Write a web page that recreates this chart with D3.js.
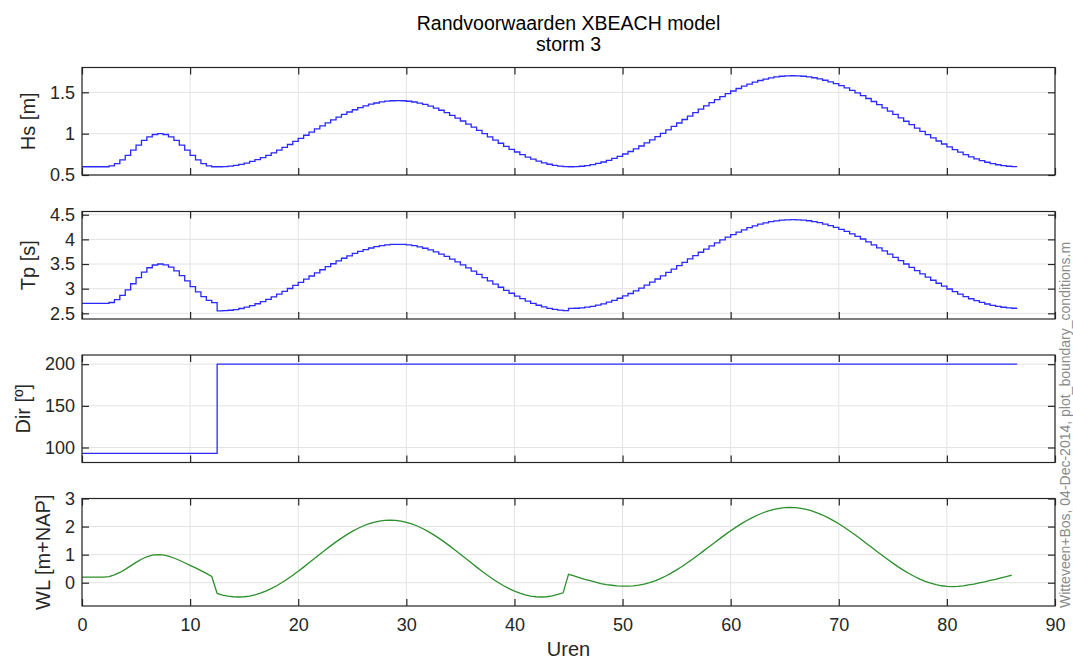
<!DOCTYPE html>
<html><head><meta charset="utf-8">
<script src="https://cdn.jsdelivr.net/npm/d3@7"></script>
<style>
body{margin:0;background:#fff}
svg text{font-family:"Liberation Sans",Arial,Helvetica,sans-serif}
</style>
</head><body>
<svg id="c" width="1073" height="660"></svg>
<script>
// ---------- data ----------
const titleLines = ["Randvoorwaarden XBEACH model", "storm 3"];
const xLabel = "Uren";
const watermark = "Witteveen+Bos, 04-Dec-2014, plot_boundary_conditions.m";
const xDomain = [0, 90];
const xTicks = [0, 10, 20, 30, 40, 50, 60, 70, 80, 90];
const tStart = 0, tStep = 0.5, tEnd = 86.5;   // hours of the samples

const hs = [
0.6,0.6,0.6,0.6,0.6,
0.610,0.638,0.682,0.738,0.8,0.862,0.918,0.962,0.990,1.0,
0.990,0.962,0.918,0.862,0.8,0.738,0.682,0.638,0.610,0.6,
0.6,0.602,0.607,0.616,0.629,0.644,0.664,0.686,0.711,0.738,0.768,0.8,0.834,0.869,0.906,0.943,0.981,1.019,1.057,1.094,1.131,1.166,1.2,1.232,1.262,1.289,1.314,1.336,1.356,1.371,1.384,1.393,1.398,1.4,
1.398,1.392,1.383,1.370,1.353,1.333,1.309,1.283,1.254,1.222,1.189,1.153,1.116,1.078,1.039,1.0,0.961,0.922,0.884,0.847,0.811,0.778,0.746,0.717,0.691,0.667,0.647,0.630,0.617,0.608,0.602,0.6,
0.602,0.606,0.614,0.626,0.640,0.657,0.677,0.700,0.726,0.754,0.784,0.817,0.851,0.888,0.925,0.964,1.004,1.045,1.087,1.129,1.171,1.213,1.255,1.296,1.336,1.375,1.412,1.449,1.483,1.516,1.546,1.574,1.600,1.623,1.643,1.660,1.674,1.686,1.694,1.698,1.700,
1.698,1.694,1.686,1.676,1.662,1.646,1.626,1.604,1.580,1.553,1.524,1.493,1.460,1.425,1.389,1.351,1.312,1.272,1.232,1.191,1.150,1.109,1.068,1.028,0.988,0.949,0.911,0.875,0.840,0.807,0.776,0.747,0.720,0.696,0.674,0.654,0.638,0.624,0.614,0.606,0.602
];
const tp = [
2.7,2.7,2.7,2.7,2.7,
2.720,2.776,2.865,2.976,3.1,3.224,3.335,3.424,3.480,3.5,
3.484,3.437,3.362,3.266,3.157,3.043,2.934,2.838,2.763,2.716,
2.550,2.553,2.562,2.577,2.598,2.625,2.657,2.694,2.736,2.783,2.833,2.888,2.945,3.004,3.066,3.129,3.193,3.257,3.321,3.384,3.446,3.505,3.562,3.617,3.667,3.714,3.756,3.793,3.825,3.852,3.873,3.888,3.897,3.900,
3.897,3.887,3.871,3.849,3.820,3.786,3.747,3.702,3.653,3.600,3.543,3.483,3.421,3.357,3.291,3.225,3.159,3.093,3.029,2.967,2.907,2.850,2.797,2.748,2.703,2.664,2.630,2.601,2.579,2.563,2.553,
2.6,
2.603,2.611,2.624,2.642,2.665,2.693,2.726,2.764,2.806,2.852,2.902,2.955,3.011,3.070,3.132,3.196,3.261,3.329,3.397,3.466,3.534,3.603,3.671,3.739,3.804,3.868,3.930,3.989,4.045,4.098,4.148,4.194,4.236,4.274,4.307,4.335,4.358,4.376,4.389,4.397,4.400,
4.397,4.390,4.377,4.360,4.338,4.311,4.279,4.244,4.204,4.160,4.112,4.061,4.007,3.950,3.890,3.829,3.765,3.700,3.634,3.567,3.500,3.433,3.366,3.300,3.235,3.171,3.110,3.050,2.993,2.939,2.888,2.840,2.796,2.756,2.721,2.689,2.662,2.640,2.623,2.610,2.603
];
const dirTimes = [0, 12.5];
const dirValues = [93, 200];
const wl = [
0.2,0.2,0.2,0.2,0.2,
0.22,0.276,0.365,0.476,0.6,0.724,0.835,0.924,0.98,1.0,
0.99,0.95,0.88,0.8,0.71,0.62,0.53,0.43,0.33,0.22,
-0.38,-0.44,-0.48,-0.5,
-0.51,-0.501,-0.476,-0.433,-0.374,-0.3,-0.211,-0.109,0.006,0.131,0.266,0.408,0.555,0.707,0.86,1.013,1.165,1.312,1.454,1.589,1.714,1.829,1.931,2.02,2.094,2.153,2.196,2.221,2.23,
2.221,2.196,2.153,2.094,2.02,1.931,1.829,1.714,1.589,1.454,1.312,1.165,1.013,0.86,0.707,0.555,0.408,0.266,0.131,0.006,-0.109,-0.211,-0.3,-0.374,-0.433,-0.476,-0.501,-0.51,
-0.5,-0.47,-0.42,-0.36,
0.3,0.24,0.18,0.12,0.07,0.02,-0.03,-0.07,-0.09,-0.11,-0.12,
-0.12,-0.112,-0.089,-0.051,0.001,0.068,0.147,0.24,0.343,0.457,0.58,0.711,0.847,0.989,1.134,1.28,1.426,1.571,1.713,1.849,1.98,2.103,2.217,2.32,2.413,2.492,2.559,2.611,2.649,2.672,2.68,
2.672,2.649,2.611,2.558,2.491,2.411,2.318,2.213,2.099,1.975,1.843,1.706,1.563,1.417,1.27,1.123,0.977,0.834,0.697,0.565,0.441,0.326,0.222,0.13,0.049,-0.018,-0.071,-0.109,-0.132,-0.14,
-0.13,-0.11,-0.08,-0.05,-0.01,0.03,0.08,0.12,0.17,0.22,0.27
];

const hsLabel = "Hs [m]",     hsDomain = [0.5, 1.8],     hsTicks = [0.5, 1, 1.5];
const tpLabel = "Tp [s]",     tpDomain = [2.385, 4.565], tpTicks = [2.5, 3, 3.5, 4, 4.5];
const dirLabel = "Dir [º]",   dirDomain = [82, 211],     dirTicks = [100, 150, 200];
const wlLabel = "WL [m+NAP]", wlDomain = [-0.83, 3],     wlTicks = [0, 1, 2, 3];

// ---------- layout / style ----------
const L = 82, R = 1055, H = 107.5;
const tops = [67.5, 211.5, 355, 498.5];
const axisColor = "#262626", gridColor = "#e3e3e3";
const blue = "#2a2aff", green = "#2b8f2b";
const tickLen = 7;

const hours = hs.map((_, i) => tStart + i * tStep);
const stairPts = vals => hours.map((t, i) => [t, vals[i]]).concat([[tEnd, vals[vals.length - 1]]]);

const panels = [
  {label: hsLabel, domain: hsDomain, ticks: hsTicks, pts: stairPts(hs), curve: d3.curveStepAfter, color: blue},
  {label: tpLabel, domain: tpDomain, ticks: tpTicks, pts: stairPts(tp), curve: d3.curveStepAfter, color: blue},
  {label: dirLabel, domain: dirDomain, ticks: dirTicks,
   pts: dirTimes.map((t, i) => [t, dirValues[i]]).concat([[tEnd, dirValues[dirValues.length - 1]]]),
   curve: d3.curveStepAfter, color: blue},
  {label: wlLabel, domain: wlDomain, ticks: wlTicks, pts: hours.map((t, i) => [t, wl[i]]), curve: d3.curveLinear, color: green}
];

const svg = d3.select("#c");
svg.append("rect").attr("width", 1073).attr("height", 660).attr("fill", "#fff");
const x = d3.scaleLinear().domain(xDomain).range([L, R]);

function styleAxis(sel) {
  sel.select(".domain").remove();
  sel.selectAll(".tick line").attr("stroke", axisColor).attr("stroke-width", 1.2);
  sel.selectAll(".tick text").attr("fill", axisColor)
     .style("font-family", '"Liberation Sans",Arial,sans-serif').style("font-size", "18px");
}

panels.forEach((p, i) => {
  const top = tops[i], bot = top + H;
  const y = d3.scaleLinear().domain(p.domain).range([bot, top]);
  const g = svg.append("g");

  // grid
  g.append("g").selectAll("line").data(xTicks).join("line")
    .attr("x1", d => x(d)).attr("x2", d => x(d)).attr("y1", top).attr("y2", bot)
    .attr("stroke", gridColor).attr("stroke-width", 1);
  g.append("g").selectAll("line").data(p.ticks).join("line")
    .attr("x1", L).attr("x2", R).attr("y1", d => y(d)).attr("y2", d => y(d))
    .attr("stroke", gridColor).attr("stroke-width", 1);

  // data
  g.append("path").datum(p.pts)
    .attr("d", d3.line().x(d => x(d[0])).y(d => y(d[1])).curve(p.curve))
    .attr("fill", "none").attr("stroke", p.color).attr("stroke-width", 1.3);

  // axes (inward ticks)
  const ax = g.append("g").attr("transform", `translate(${L},0)`)
    .call(d3.axisLeft(y).tickValues(p.ticks).tickSizeInner(-tickLen).tickSizeOuter(0).tickPadding(7).tickFormat(d3.format("~g")));
  styleAxis(ax);
  g.append("g").attr("transform", `translate(${R},0)`)
    .call(d3.axisRight(y).tickValues(p.ticks).tickSizeInner(-tickLen).tickSizeOuter(0).tickFormat(""))
    .call(styleAxis);
  g.append("g").attr("transform", `translate(0,${top})`)
    .call(d3.axisTop(x).tickValues(xTicks).tickSizeInner(-tickLen).tickSizeOuter(0).tickFormat(""))
    .call(styleAxis);
  const bx = g.append("g").attr("transform", `translate(0,${bot})`)
    .call(d3.axisBottom(x).tickValues(xTicks).tickSizeInner(-tickLen).tickSizeOuter(0).tickPadding(12)
      .tickFormat(i === panels.length - 1 ? d3.format("~g") : ""));
  styleAxis(bx);

  // box
  g.append("rect").attr("x", L).attr("y", top).attr("width", R - L).attr("height", H)
    .attr("fill", "none").attr("stroke", axisColor).attr("stroke-width", 1.2);

  // y label placed left of the widest tick label
  let minX = Infinity;
  ax.selectAll(".tick text").each(function() { const b = this.getBBox(); minX = Math.min(minX, L + b.x); });
  const lx = minX - 15, ly = (top + bot) / 2;
  svg.append("text").attr("transform", `translate(${lx},${ly}) rotate(-90)`)
    .attr("text-anchor", "middle").attr("fill", axisColor).style("font-size", "20px").text(p.label);
});

// x label
svg.append("text").attr("x", (L + R) / 2).attr("y", 656).attr("text-anchor", "middle")
  .attr("fill", axisColor).style("font-size", "20px").text(xLabel);

// title
svg.append("text").attr("x", (L + R) / 2).attr("y", 30).attr("text-anchor", "middle")
  .attr("fill", "#000").style("font-size", "19.5px").text(titleLines[0]);
svg.append("text").attr("x", (L + R) / 2).attr("y", 51).attr("text-anchor", "middle")
  .attr("fill", "#000").style("font-size", "19.5px").text(titleLines[1]);

// watermark
svg.append("text").attr("transform", "translate(1070,608) rotate(-90)")
  .attr("text-anchor", "start").attr("fill", "#8a8a8a").style("font-size", "14px").text(watermark);
</script>
</body></html>
